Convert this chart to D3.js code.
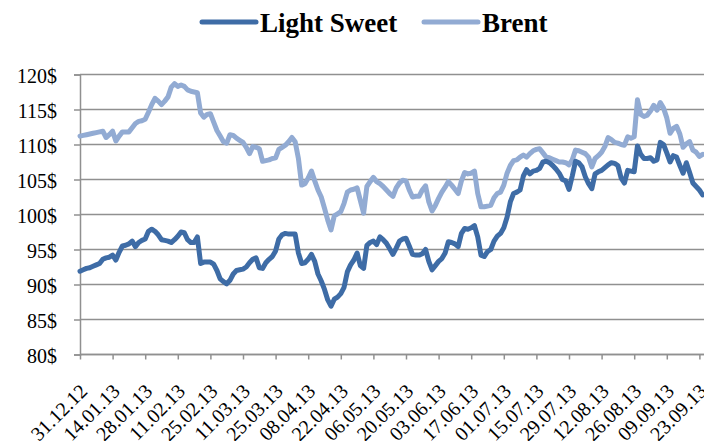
<!DOCTYPE html>
<html>
<head>
<meta charset="utf-8">
<script src="https://cdn.jsdelivr.net/npm/d3@7"></script>
<style>
  body { margin: 0; background: #fff; }
  svg text { font-family: "Liberation Serif", "Times New Roman", serif; }
</style>
</head>
<body>
<div id="chart"></div>
<script>
(function() {

    // tick labels on the category axis (one every 10 trading days)
    var dateLabels = ["31.12.12", "14.01.13", "28.01.13", "11.02.13", "25.02.13", "11.03.13",
        "25.03.13", "08.04.13", "22.04.13", "06.05.13", "20.05.13", "03.06.13", "17.06.13",
        "01.07.13", "15.07.13", "29.07.13", "12.08.13", "26.08.13", "09.09.13", "23.09.13"];

    var yTicks = [80, 85, 90, 95, 100, 105, 110, 115, 120];

    var seriesNames = ["Light Sweet", "Brent"];

    // daily prices, $ per barrel
    var lightSweet = [
        91.9, 92.1, 92.3, 92.4, 92.6, 92.8, 93.0, 93.6, 93.8, 93.9,
        94.2, 93.5, 94.6, 95.5, 95.6, 95.8, 96.2, 95.4, 96.0, 96.3,
        96.5, 97.6, 97.9, 97.6, 97.1, 96.4, 96.3, 96.2, 96.0, 96.4,
        96.9, 97.5, 97.4, 96.4, 96.0, 96.0, 96.8, 93.0, 93.2, 93.2,
        93.2, 92.9, 92.0, 90.8, 90.4, 90.1, 90.6, 91.5, 92.0, 92.1,
        92.2, 92.5, 93.1, 93.6, 93.8, 92.4, 92.3, 93.1, 93.6, 94.0,
        94.8, 96.5, 97.1, 97.3, 97.2, 97.2, 97.2, 94.5, 93.0, 93.1,
        93.6, 94.3, 93.3, 91.5, 90.5, 89.3, 87.8, 86.9, 87.9, 88.2,
        88.7, 89.6, 91.8, 92.8, 93.5, 94.5, 92.7, 92.3, 95.6, 96.0,
        96.2, 95.7, 96.8, 96.4, 95.9, 95.1, 94.3, 95.2, 96.2, 96.5,
        96.6, 95.5, 94.3, 94.2, 94.2, 94.4, 95.0, 93.3, 92.1, 92.7,
        93.3, 93.7, 94.5, 96.1, 96.0, 95.8, 95.4, 97.3, 98.0, 97.9,
        98.1, 98.4, 96.8, 94.2, 94.0, 94.7, 95.0, 96.2, 96.9, 97.3,
        98.1, 99.6, 101.8, 103.0, 103.2, 103.5, 105.5, 106.4, 105.8, 106.2,
        106.3, 106.6, 107.5, 107.6, 107.4, 107.0, 106.5, 105.9, 105.0, 104.8,
        103.6, 105.5, 107.6, 107.4, 106.8, 105.4, 104.4, 103.7, 105.8, 106.1,
        106.3, 106.7, 107.1, 107.4, 107.3, 107.0, 105.2, 104.5, 106.3, 106.2,
        106.1, 109.8, 108.6, 108.0, 108.0, 108.1, 107.6, 107.8, 110.3, 110.0,
        108.8, 107.5, 108.4, 108.2, 107.0, 105.9, 107.4, 106.0, 104.5, 104.0,
        103.5, 102.8
    ];

    var brent = [
        111.2, 111.3, 111.4, 111.5, 111.6, 111.7, 111.8, 111.9, 111.0, 111.4,
        111.9, 110.5, 111.2, 111.8, 111.8, 111.8, 112.4, 113.0, 113.3, 113.4,
        113.6, 114.6, 115.7, 116.6, 116.2, 115.7, 116.2, 116.8, 118.2, 118.7,
        118.3, 118.5, 118.3, 117.8, 117.6, 117.5, 117.4, 114.5, 113.9, 114.3,
        114.4, 113.2, 112.0, 111.2, 110.4, 110.2, 111.4, 111.3, 110.9, 110.6,
        110.3, 109.6, 108.7, 109.7, 109.6, 109.4, 107.6, 107.7, 107.8, 108.0,
        108.1, 109.3, 109.6, 109.9, 110.4, 111.0, 110.4, 108.0, 104.2, 104.4,
        105.2, 106.2, 104.8, 103.5, 102.5, 100.9, 99.2, 97.8, 99.8, 100.1,
        100.4, 101.6, 103.2, 103.5, 103.6, 103.8, 102.0, 100.2, 104.0, 104.7,
        105.3, 104.7, 104.4, 104.0, 103.5, 103.0, 102.6, 103.8, 104.5, 104.9,
        104.8, 103.5, 102.5, 102.6, 102.6, 103.5, 104.1, 101.8, 100.5, 101.3,
        102.3, 103.2, 103.9, 104.7, 104.2, 103.6, 103.0, 104.8, 106.0, 105.8,
        105.9, 106.2, 103.0, 101.1, 101.1, 101.2, 101.3, 102.4, 103.0, 103.2,
        104.2, 105.9, 107.0, 107.7, 107.8, 108.2, 108.5, 108.2, 108.7, 109.1,
        109.3, 109.4, 108.8, 108.2, 108.1, 107.9, 107.7, 107.5, 107.5, 107.4,
        107.1, 107.8, 109.2, 109.1, 108.9, 108.7, 108.2, 106.8, 108.0, 108.4,
        108.9, 109.7, 111.0, 110.7, 110.3, 110.2, 110.0, 109.9, 111.1, 110.9,
        111.1, 116.4, 114.3, 114.0, 114.2, 114.8, 115.6, 114.9, 116.0, 115.2,
        113.8, 111.6, 112.3, 112.6, 111.5, 109.6, 110.1, 110.4, 109.2, 108.9,
        108.3, 108.6
    ];

    var colors = ["#3e6ca6", "#92abd3"];

    var width = 704, height = 441;
    var margin = { top: 74.5, right: 0, bottom: 86.5, left: 80 };

    var svg = d3.select("#chart")
        .append("svg")
        .attr("width", width)
        .attr("height", height);

    var x = d3.scaleLinear()
        .domain([0, lightSweet.length - 1])
        .range([margin.left, margin.left + (lightSweet.length - 1) * 3.26]);

    var y = d3.scaleLinear()
        .domain([80, 120])
        .range([height - margin.bottom, margin.top]);

    // horizontal gridlines
    svg.append("g")
        .selectAll("line")
        .data(yTicks)
        .enter().append("line")
        .attr("x1", margin.left)
        .attr("x2", width)
        .attr("y1", function(d) { return y(d); })
        .attr("y2", function(d) { return y(d); })
        .attr("stroke", "#909090")
        .attr("stroke-width", 1.5);

    // Y axis
    var yAxis = svg.append("g")
        .attr("transform", "translate(" + margin.left + ",0)")
        .call(d3.axisLeft(y).tickValues(yTicks).tickSize(6).tickPadding(17)
            .tickFormat(function(d) { return d + "$"; }));
    yAxis.select(".domain").attr("stroke", "#909090").attr("stroke-width", 1.5);
    yAxis.selectAll(".tick line").attr("stroke", "#909090").attr("stroke-width", 1.5);
    yAxis.selectAll("text")
        .attr("fill", "#000")
        .attr("dy", "0.4em")
        .style("font-size", "20px")
        .style("font-family", "Liberation Serif");

    // X axis
    var tickIdx = d3.range(0, lightSweet.length, 10);
    var xAxis = svg.append("g")
        .attr("transform", "translate(0," + y(80) + ")")
        .call(d3.axisBottom(x).tickValues(tickIdx).tickSize(5).tickSizeOuter(0)
            .tickFormat(function(d, i) { return dateLabels[i]; }));
    xAxis.select(".domain").attr("stroke", "#909090").attr("stroke-width", 1.5)
        .attr("d", "M" + margin.left + ",0H" + width);
    xAxis.selectAll(".tick line").attr("stroke", "#909090").attr("stroke-width", 1.5);
    xAxis.selectAll("text")
        .attr("fill", "#000")
        .style("font-size", "20px")
        .style("font-family", "Liberation Serif")
        .style("text-anchor", "end")
        .attr("x", 0)
        .attr("y", 0)
        .attr("dy", "0.35em")
        .attr("transform", "translate(3,33) rotate(-45)");

    // the two price lines
    var line = d3.line()
        .x(function(d, i) { return x(i); })
        .y(function(d) { return y(d); });

    var plot = svg.append("g");
    [lightSweet, brent].forEach(function(s, k) {
        plot.append("path")
            .datum(s)
            .attr("fill", "none")
            .attr("stroke", colors[k])
            .attr("stroke-width", 5)
            .attr("stroke-linejoin", "round")
            .attr("stroke-linecap", "round")
            .attr("d", line);
    });
    // keep Light Sweet on top where the two cross
    plot.select("path").raise();

    // legend
    var legendX = [202, 424];
    var legend = svg.append("g");
    seriesNames.forEach(function(name, k) {
        legend.append("line")
            .attr("x1", legendX[k])
            .attr("x2", legendX[k] + 54)
            .attr("y1", 22)
            .attr("y2", 22)
            .attr("stroke", colors[k])
            .attr("stroke-width", 5)
            .attr("stroke-linecap", "round");
        legend.append("text")
            .attr("x", legendX[k] + 58)
            .attr("y", 32)
            .style("font-size", "27px")
            .style("font-weight", "bold")
            .attr("fill", "#000")
            .text(name);
    });

})();
</script>
</body>
</html>
